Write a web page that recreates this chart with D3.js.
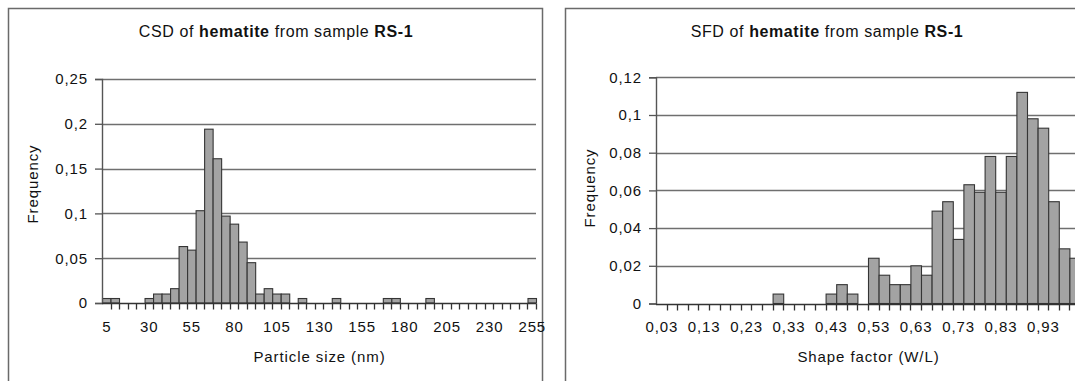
<!DOCTYPE html>
<html>
<head>
<meta charset="utf-8">
<script src="https://cdn.jsdelivr.net/npm/d3@7"></script>
<style>
  html, body { margin: 0; padding: 0; background: #fff; }
  svg { display: block; }
  text { font-family: "Liberation Sans", Arial, sans-serif; fill: #111; }
</style>
</head>
<body>
<svg id="chart" width="1075" height="381"></svg>
<script>
// ---------- DATA ----------
// Left chart: crystal size distribution (particle size, nm)
const csdCategories = [5,10,15,20,25,30,35,40,45,50,55,60,65,70,75,80,85,90,95,100,
  105,110,115,120,125,130,135,140,145,150,155,160,165,170,175,180,185,190,195,200,
  205,210,215,220,225,230,235,240,245,250,255];
const csdValues = [0.005,0.005,0,0,0,0.005,0.010,0.010,0.016,0.063,0.059,0.103,0.194,0.161,0.097,0.088,0.068,0.045,0.010,0.016,
  0.010,0.010,0,0.005,0,0,0,0.005,0,0,0,0,0,0.005,0.005,0,0,0,0.005,0,
  0,0,0,0,0,0,0,0,0,0,0.005];
const csdTickCats = [5,30,55,80,105,130,155,180,205,230,255];
const csdTickLabels = ["5","30","55","80","105","130","155","180","205","230","255"];
const csdYTicks = [0,0.05,0.1,0.15,0.2,0.25];
const csdYLabels = ["0","0,05","0,1","0,15","0,2","0,25"];

// Right chart: shape factor distribution (W/L)
const sfdCategories = [0.030,0.055,0.080,0.105,0.130,0.155,0.180,0.205,0.230,0.255,
  0.280,0.305,0.330,0.355,0.380,0.405,0.430,0.455,0.480,0.505,
  0.530,0.555,0.580,0.605,0.630,0.655,0.680,0.705,0.730,0.755,
  0.780,0.805,0.830,0.855,0.880,0.905,0.930,0.955,0.980,1.005];
const sfdValues = [0,0,0,0,0,0,0,0,0,0,
  0,0.005,0,0,0,0,0.005,0.010,0.005,0,
  0.024,0.015,0.010,0.010,0.020,0.015,0.049,0.054,0.034,0.063,
  0.059,0.078,0.059,0.078,0.112,0.098,0.093,0.054,0.029,0.024];
const sfdTickCats = [0.030,0.130,0.230,0.330,0.430,0.530,0.630,0.730,0.830,0.930];
const sfdTickLabels = ["0,03","0,13","0,23","0,33","0,43","0,53","0,63","0,73","0,83","0,93"];
const sfdYTicks = [0,0.02,0.04,0.06,0.08,0.1,0.12];
const sfdYLabels = ["0","0,02","0,04","0,06","0,08","0,1","0,12"];

// ---------- DRAW ----------
const svg = d3.select("#chart");
const LBL_SIZE = "15px", LBL_SPACING = "0.9px";

function panel(cfg) {
  const g = svg.append("g");
  // frame
  g.append("rect")
    .attr("x", cfg.frame[0] + 0.5).attr("y", cfg.frame[1] + 0.5)
    .attr("width", cfg.frame[2]).attr("height", cfg.frame[3])
    .attr("fill", "none").attr("stroke", "#6a6a6a").attr("stroke-width", 1.5);

  // title
  const t = g.append("text")
    .attr("x", cfg.titleX).attr("y", 37)
    .attr("text-anchor", "middle")
    .style("font-size", "16px").style("letter-spacing", "0.6px");
  t.append("tspan").text(cfg.title[0]);
  t.append("tspan").style("font-weight", "bold").text(cfg.title[1]);
  t.append("tspan").text(cfg.title[2]);
  t.append("tspan").style("font-weight", "bold").text(cfg.title[3]);

  const x = d3.scaleBand().domain(cfg.cats).range(cfg.xRange).padding(0);
  const y = d3.scaleLinear().domain(cfg.yDomain).range(cfg.yRange);

  // gridlines
  g.append("g").selectAll("line")
    .data(cfg.yTicks.filter(d => d > 0))
    .join("line")
    .attr("x1", cfg.xRange[0]).attr("x2", cfg.xRange[1])
    .attr("y1", d => Math.round(y(d)) + 0.5).attr("y2", d => Math.round(y(d)) + 0.5)
    .attr("stroke", "#6f6f6f").attr("stroke-width", 1.4);

  // bars
  g.append("g").selectAll("rect")
    .data(cfg.cats.map((c, i) => ({c, v: cfg.values[i]})).filter(d => d.v > 0))
    .join("rect")
    .attr("x", d => x(d.c) + 0.5)
    .attr("y", d => y(d.v))
    .attr("width", x.bandwidth())
    .attr("height", d => y(0) - y(d.v))
    .attr("fill", "#a3a3a3").attr("stroke", "#353535").attr("stroke-width", 1.1);

  // y axis
  const yAxis = d3.axisLeft(y)
    .tickValues(cfg.yTicks)
    .tickSize(7).tickPadding(7)
    .tickFormat((d, i) => cfg.yLabels[i]);
  const ya = g.append("g").attr("transform", `translate(${cfg.xRange[0]},0)`).call(yAxis);
  ya.select(".domain").attr("stroke", "#555").attr("stroke-width", 1.4);
  ya.selectAll(".tick line").attr("stroke", "#555").attr("stroke-width", 1.3);
  ya.selectAll(".tick text").style("font-size", LBL_SIZE).style("letter-spacing", LBL_SPACING)
    .attr("fill", "#111");

  // x axis baseline + category boundary ticks
  const base = Math.round(y(0)) + 0.5;
  g.append("line")
    .attr("x1", cfg.xRange[0]).attr("x2", cfg.xRange[1])
    .attr("y1", base).attr("y2", base)
    .attr("stroke", "#333").attr("stroke-width", 1.4);
  g.append("g").selectAll("line")
    .data(cfg.cats)
    .join("line")
    .attr("x1", d => Math.round(x(d) + x.bandwidth()) + 0.5)
    .attr("x2", d => Math.round(x(d) + x.bandwidth()) + 0.5)
    .attr("y1", base).attr("y2", base + 6)
    .attr("stroke", "#333").attr("stroke-width", 1.3);

  // x tick labels
  const xAxis = d3.axisBottom(x)
    .tickValues(cfg.tickCats)
    .tickSize(0).tickPadding(18)
    .tickFormat((d, i) => cfg.tickLabels[i]);
  const xa = g.append("g").attr("transform", `translate(0,${y(0)})`).call(xAxis);
  xa.select(".domain").remove();
  xa.selectAll(".tick text").style("font-size", LBL_SIZE).style("letter-spacing", LBL_SPACING)
    .attr("fill", "#111").attr("dx", "0.5px");

  // axis titles
  g.append("text")
    .attr("x", (cfg.xRange[0] + cfg.xRange[1]) / 2 + 0.5).attr("y", 362)
    .attr("text-anchor", "middle")
    .style("font-size", LBL_SIZE).style("letter-spacing", LBL_SPACING)
    .text(cfg.xTitle);
  g.append("text")
    .attr("transform", `translate(${cfg.yTitleX},${cfg.yTitleY}) rotate(-90)`)
    .attr("text-anchor", "middle")
    .style("font-size", LBL_SIZE).style("letter-spacing", LBL_SPACING)
    .text("Frequency");
}

panel({
  frame: [8, 8, 534, 400],
  titleX: 276,
  title: ["CSD of ", "hematite", " from sample ", "RS-1"],
  cats: csdCategories, values: csdValues,
  xRange: [102, 536],
  yDomain: [0, 0.25], yRange: [303, 79],
  yTicks: csdYTicks, yLabels: csdYLabels,
  tickCats: csdTickCats, tickLabels: csdTickLabels,
  xTitle: "Particle size (nm)",
  yTitleX: 38, yTitleY: 184
});

panel({
  frame: [565, 8, 600, 400],
  titleX: 827,
  title: ["SFD of ", "hematite", " from sample ", "RS-1"],
  cats: sfdCategories, values: sfdValues,
  xRange: [656, 1080],
  yDomain: [0, 0.12], yRange: [303.5, 77.3],
  yTicks: sfdYTicks, yLabels: sfdYLabels,
  tickCats: sfdTickCats, tickLabels: sfdTickLabels,
  xTitle: "Shape factor (W/L)",
  yTitleX: 595, yTitleY: 188
});
</script>
</body>
</html>
